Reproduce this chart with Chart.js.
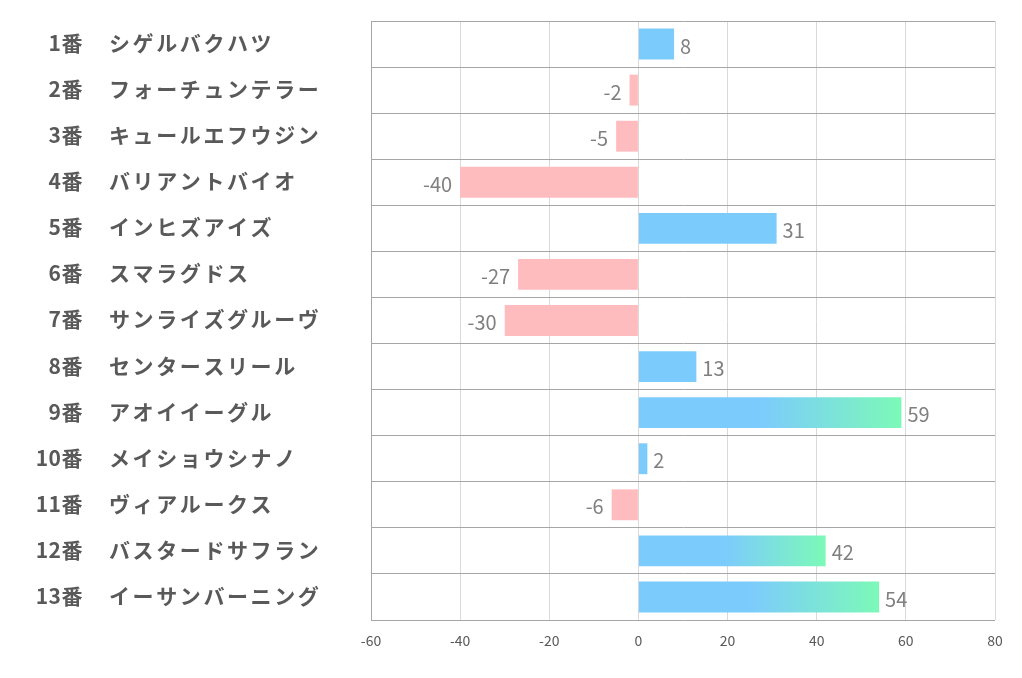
<!DOCTYPE html>
<html>
<head>
<meta charset="utf-8">
<script src="https://cdn.jsdelivr.net/npm/chart.js@4/dist/chart.umd.min.js"></script>
<style>
    html, body { margin: 0; padding: 0; background: #fff; }
    #wrap { width: 1022px; height: 678px; }
</style>
</head>
<body>
<div id="wrap"><canvas id="horseChart" width="1022" height="678"></canvas></div>
<script>
const numbers = ["1番", "2番", "3番", "4番", "5番", "6番", "7番", "8番", "9番", "10番", "11番", "12番", "13番"];
const horses = ["シゲルバクハツ", "フォーチュンテラー", "キュールエフウジン", "バリアントバイオ", "インヒズアイズ",
    "スマラグドス", "サンライズグルーヴ", "センタースリール", "アオイイーグル", "メイショウシナノ",
    "ヴィアルークス", "バスタードサフラン", "イーサンバーニング"];
const scores = [8, -2, -5, -40, 31, -27, -30, 13, 59, 2, -6, 42, 54];
const xTicks = [-60, -40, -20, 0, 20, 40, 60, 80];

const BLUE = "#7ccbfd";
const GREEN = "#7cf9b8";
const PINK = "#ffbcbf";
const JP_FONT = "'Noto Sans CJK JP', 'Noto Sans', sans-serif";

function barColor(ctx) {
    const v = ctx.raw;
    if (v < 0) return PINK;
    const chart = ctx.chart;
    if (v < 40 || !chart.chartArea) return BLUE;
    const x = chart.scales.x;
    const g = chart.ctx.createLinearGradient(x.getPixelForValue(v * 0.46), 0, x.getPixelForValue(v), 0);
    g.addColorStop(0, BLUE);
    g.addColorStop(1, GREEN);
    return g;
}

// row labels: number right-aligned, horse name left-aligned
const rowLabels = {
    id: "rowLabels",
    afterDraw(chart) {
        const c = chart.ctx;
        const y = chart.scales.y;
        c.save();
        c.fillStyle = "#595959";
        c.textBaseline = "middle";
        numbers.forEach((n, i) => {
            const py = y.getPixelForValue(i) - 1;
            c.font = "bold 21px " + JP_FONT;
            c.letterSpacing = "0.5px";
            c.textAlign = "right";
            c.fillText(n, 83, py);
            c.letterSpacing = "2.6px";
            c.textAlign = "left";
            c.fillText(horses[i], 109, py);
        });
        c.restore();
    }
};

// value labels at the bar ends
const valueLabels = {
    id: "valueLabels",
    afterDatasetsDraw(chart) {
        const c = chart.ctx;
        const meta = chart.getDatasetMeta(0);
        c.save();
        c.font = "20px " + JP_FONT;
        c.fillStyle = "#7f7f7f";
        c.textBaseline = "middle";
        meta.data.forEach((bar, i) => {
            const v = scores[i];
            if (v >= 0) {
                c.textAlign = "left";
                c.fillText(String(v), bar.x + 6, bar.y + 2);
            } else {
                c.textAlign = "right";
                c.fillText(String(v), bar.x - 8, bar.y + 2);
            }
        });
        c.restore();
    }
};

new Chart(document.getElementById("horseChart"), {
    type: "bar",
    data: {
        labels: horses,
        datasets: [{
            data: scores,
            backgroundColor: barColor,
            borderWidth: 0,
            categoryPercentage: 1,
            barPercentage: 0.67
        }]
    },
    options: {
        indexAxis: "y",
        responsive: false,
        maintainAspectRatio: false,
        animation: false,
        layout: { padding: { left: 0, right: 27, top: 21, bottom: 0 } },
        plugins: {
            legend: { display: false },
            tooltip: { enabled: false }
        },
        scales: {
            x: {
                min: -60,
                max: 80,
                afterBuildTicks(scale) {
                    scale.ticks = xTicks.map(v => ({ value: v }));
                },
                afterFit(scale) { scale.height = 58; },
                grid: { color: "#d9d9d9", lineWidth: 1, drawTicks: false },
                border: { display: false },
                ticks: {
                    padding: 12,
                    color: "#595959",
                    font: { family: JP_FONT, size: 14 }
                }
            },
            y: {
                afterFit(scale) { scale.width = 371; },
                grid: { color: "#a6a6a6", lineWidth: 1, drawTicks: false, offset: true },
                border: { display: true, color: "#a6a6a6" },
                ticks: { display: false }
            }
        }
    },
    plugins: [rowLabels, valueLabels]
});
</script>
</body>
</html>
